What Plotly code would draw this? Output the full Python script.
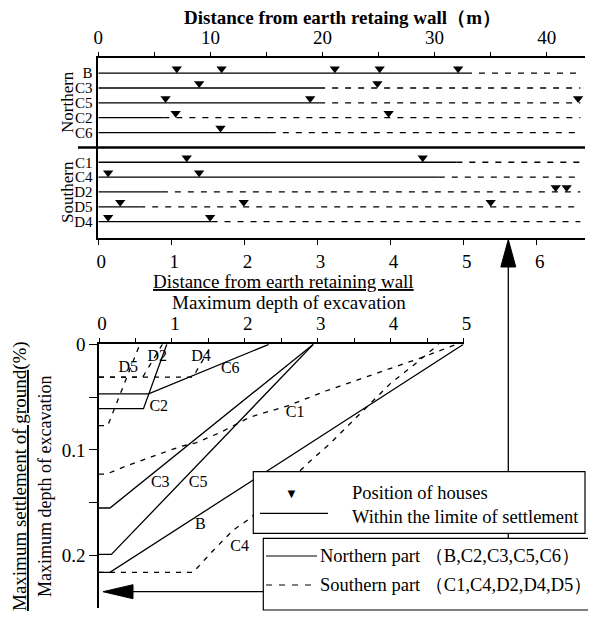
import plotly.graph_objects as go

# The page body has an 8px default margin, so the figure is drawn 8px in from the window edge.
OFF = 8
W, H = 596 - OFF, 622 - OFF
def px(x): return (x - OFF) / W
def py(y): return 1 - (y - OFF) / H

FONT = "Liberation Serif"
BLACK = "black"

# ---------------- data: top panel ----------------
north_rows = ["B", "C3", "C5", "C2", "C6"]
north_limit_m = [32.8, 19.7, 19.7, 5.8, 15.3]          # end of settlement zone (m)
north_houses_m = [[7.0, 11.0, 21.1, 25.1, 32.1],
                  [9.0, 24.9],
                  [6.0, 18.9, 42.8],
                  [6.9, 25.9],
                  [10.9]]
south_rows = ["C1", "C4", "D2", "D5", "D4"]
south_limit_ratio = [4.9, 4.66, 0.87, 0.56, 1.55]       # end of settlement zone (distance / depth)
south_houses_ratio = [[1.21, 4.44],
                      [0.135, 1.38],
                      [6.26, 6.41],
                      [0.30, 1.99, 5.37],
                      [0.135, 1.53]]
row_end_m = 43.0
depth_m = 6.518          # metres per unit of the ratio axis

# ---------------- data: lower panel (x = distance/depth, y = settlement/depth %) ----------------
B_x = [0, 0.15, 5.0];            B_y = [0.216, 0.216, 0.0]
C2_x = [0, 0.61, 0.93];          C2_y = [0.061, 0.061, 0.0]
C3_x = [0, 0.15, 2.94];          C3_y = [0.155, 0.155, 0.0]
C5_x = [0, 0.17, 2.94];          C5_y = [0.199, 0.199, 0.0]
C6_x = [0, 0.68, 2.33];          C6_y = [0.047, 0.047, 0.0]
C1_x = [0, 0.1, 0.38, 0.7, 1.11, 1.34, 1.68, 2.07, 2.6, 3.12, 3.53, 4.0, 4.45, 4.9]
C1_y = [0.123, 0.123, 0.115, 0.107, 0.097, 0.093, 0.083, 0.069, 0.058, 0.044, 0.034, 0.023, 0.012, 0.0]
C4_x = [0, 1.29, 1.57, 1.84, 2.07, 2.89, 3.17, 3.49, 3.76, 4.0, 4.31, 4.66]
C4_y = [0.216, 0.216, 0.195, 0.176, 0.165, 0.111, 0.094, 0.072, 0.053, 0.037, 0.02, 0.0]
D2_x = [0, 0.6, 0.87];           D2_y = [0.031, 0.031, 0.0]
D4_x = [0, 1.29, 1.55];          D4_y = [0.031, 0.031, 0.0]
D5_x = [0, 0.12, 0.56];          D5_y = [0.077, 0.077, 0.0]

lower_solid = {"B": (B_x, B_y), "C2": (C2_x, C2_y), "C3": (C3_x, C3_y),
               "C5": (C5_x, C5_y), "C6": (C6_x, C6_y)}
lower_dashed = {"C1": (C1_x, C1_y), "C4": (C4_x, C4_y), "D2": (D2_x, D2_y),
                "D4": (D4_x, D4_y), "D5": (D5_x, D5_y)}

curve_labels = ["D5", "D2", "D4", "C6", "C2", "C1", "C3", "C5", "B", "C4"]
curve_label_x = [0.40, 0.80, 1.40, 1.80, 0.82, 2.69, 0.84, 1.36, 1.39, 1.93]
curve_label_y = [0.022, 0.012, 0.012, 0.023, 0.059, 0.065, 0.131, 0.131, 0.171, 0.192]

fig = go.Figure()
DASH = "6px,7px"

# ---------- top panel rows ----------
sep_row = len(north_rows) + 1
for i, name in enumerate(north_rows):
    r = i + 1
    lim = north_limit_m[i]
    fig.add_trace(go.Scatter(x=[0, lim], y=[r, r], mode="lines",
                             line=dict(color=BLACK, width=1.3), xaxis="x", yaxis="y", hoverinfo="skip"))
    fig.add_trace(go.Scatter(x=[lim, row_end_m], y=[r, r], mode="lines",
                             line=dict(color=BLACK, width=1.3, dash=DASH), xaxis="x", yaxis="y", hoverinfo="skip"))
    hs = north_houses_m[i]
    fig.add_trace(go.Scatter(x=hs, y=[r - 0.3] * len(hs), mode="markers",
                             marker=dict(symbol="triangle-down", size=9, color=BLACK),
                             xaxis="x", yaxis="y", hoverinfo="skip"))

row_end_ratio = row_end_m / depth_m
for i, name in enumerate(south_rows):
    r = sep_row + 1 + i
    lim = south_limit_ratio[i]
    fig.add_trace(go.Scatter(x=[0, lim], y=[r, r], mode="lines",
                             line=dict(color=BLACK, width=1.3), xaxis="x2", yaxis="y", hoverinfo="skip"))
    fig.add_trace(go.Scatter(x=[lim, row_end_ratio], y=[r, r], mode="lines",
                             line=dict(color=BLACK, width=1.3, dash=DASH), xaxis="x2", yaxis="y", hoverinfo="skip"))
    hs = south_houses_ratio[i]
    fig.add_trace(go.Scatter(x=hs, y=[r - 0.3] * len(hs), mode="markers",
                             marker=dict(symbol="triangle-down", size=9, color=BLACK),
                             xaxis="x2", yaxis="y", hoverinfo="skip"))

# ---------- lower panel curves ----------
for name, (xs, ys) in lower_solid.items():
    fig.add_trace(go.Scatter(x=xs, y=ys, mode="lines", line=dict(color=BLACK, width=1.3),
                             xaxis="x3", yaxis="y3", hoverinfo="skip", cliponaxis=False))
for name, (xs, ys) in lower_dashed.items():
    fig.add_trace(go.Scatter(x=xs, y=ys, mode="lines", line=dict(color=BLACK, width=1.3, dash="5px,6px"),
                             xaxis="x3", yaxis="y3", hoverinfo="skip", cliponaxis=False))
fig.add_trace(go.Scatter(x=curve_label_x, y=curve_label_y, mode="text", text=curve_labels,
                         textfont=dict(family=FONT, size=16, color=BLACK),
                         xaxis="x3", yaxis="y3", hoverinfo="skip", cliponaxis=False))

top_xmax = (585 - 98.3) / 11.21
all_rows = north_rows + [""] + south_rows
tickfont = dict(family=FONT, size=19, color=BLACK)
common = dict(showline=True, linecolor=BLACK, linewidth=1.5, showgrid=False, zeroline=False,
              automargin=False, tickcolor=BLACK, fixedrange=True)

fig.update_layout(
    width=W, height=H, margin=dict(l=0, r=0, t=0, b=0, autoexpand=False),
    paper_bgcolor="white", plot_bgcolor="rgba(0,0,0,0)", showlegend=False,
    xaxis=dict(domain=[px(98.3), px(585)], range=[0, top_xmax], side="top", anchor="y",
               tickmode="array", tickvals=list(range(0, 45, 5)),
               ticktext=[str(v) if v % 10 == 0 else "" for v in range(0, 45, 5)],
               ticks="outside", ticklen=5, tickfont=tickfont, **common),
    xaxis2=dict(domain=[px(98.3), px(585)], range=[0, top_xmax / depth_m], side="bottom", anchor="y",
                overlaying="x", tickmode="array", tickvals=list(range(0, 7)), ticks="outside", ticklen=5,
                tickfont=tickfont, ticklabelshift=3, **common),
    yaxis=dict(domain=[py(238.3), py(58.3)], range=[12.12, 0], anchor="x",
               tickmode="array", tickvals=list(range(1, len(all_rows) + 1)), ticktext=all_rows,
               ticks="", tickfont=dict(family=FONT, size=15, color=BLACK), ticklabelstandoff=1, **common),
    xaxis3=dict(domain=[px(99), px(463.5)], range=[0, 5], side="top", anchor="y3",
                tickmode="array", tickvals=[v / 2 for v in range(0, 11)],
                ticktext=[str(v // 2) if v % 2 == 0 else "" for v in range(0, 11)],
                ticks="outside", ticklen=5, tickfont=tickfont, ticklabelshift=3, **common),
    yaxis3=dict(domain=[py(608.3), py(344.3)], range=[0.25, 0], anchor="x3",
                tickmode="array", tickvals=[0, 0.05, 0.1, 0.15, 0.2],
                ticktext=["0", "", "0.1", "", "0.2"],
                ticks="outside", ticklen=8, tickfont=tickfont, **common),
)

shapes = []
# separator between northern / southern rows
shapes.append(dict(type="line", xref="paper", yref="y", x0=px(78), x1=px(585), y0=sep_row, y1=sep_row,
                   line=dict(color=BLACK, width=2.5)))
# arrows
ax = 508.3
shapes.append(dict(type="line", xref="paper", yref="paper", x0=px(ax), x1=px(ax), y0=py(262), y1=py(591.7),
                   line=dict(color=BLACK, width=1.3)))
shapes.append(dict(type="line", xref="paper", yref="paper", x0=px(130), x1=px(ax), y0=py(591.7), y1=py(591.7),
                   line=dict(color=BLACK, width=1.3)))
def tri(pts):
    return "M " + " L ".join(f"{px(a):.5f},{py(b):.5f}" for a, b in pts) + " Z"
shapes.append(dict(type="path", xref="paper", yref="paper",
                   path=tri([(ax, 239.5), (ax - 7.5, 267), (ax + 7.5, 267)]),
                   fillcolor=BLACK, line=dict(color=BLACK, width=1)))
shapes.append(dict(type="path", xref="paper", yref="paper",
                   path=tri([(103, 591.7), (133, 584.7), (133, 598.7)]),
                   fillcolor=BLACK, line=dict(color=BLACK, width=1)))
# legend boxes
shapes.append(dict(type="rect", xref="paper", yref="paper", x0=px(253.3), x1=px(585), y0=py(533.3), y1=py(471.7),
                   fillcolor="white", line=dict(color=BLACK, width=1.2), layer="above"))
shapes.append(dict(type="rect", xref="paper", yref="paper", x0=px(263.3), x1=px(590), y0=py(610), y1=py(538.3),
                   fillcolor="white", line=dict(color=BLACK, width=1.2), layer="above"))
shapes.append(dict(type="line", xref="paper", yref="paper", x0=px(260), x1=px(328), y0=py(513.3), y1=py(513.3),
                   line=dict(color=BLACK, width=1.2), layer="above"))
shapes.append(dict(type="line", xref="paper", yref="paper", x0=px(266), x1=px(317), y0=py(556), y1=py(556),
                   line=dict(color=BLACK, width=1.2), layer="above"))
shapes.append(dict(type="line", xref="paper", yref="paper", x0=px(266), x1=px(317), y0=py(585), y1=py(585),
                   line=dict(color=BLACK, width=1.2, dash="6px,7px"), layer="above"))
fig.update_layout(shapes=shapes)

ann = []
def text(x, y, s, size=17, anchor="center", angle=0, bold=False):
    ann.append(dict(xref="paper", yref="paper", x=px(x), y=py(y), text=(f"<b>{s}</b>" if bold else s),
                    showarrow=False, xanchor=anchor, yanchor="middle", textangle=angle,
                    font=dict(family=FONT, size=size, color=BLACK)))

text(342, 17, "Distance from earth retaing wall（m）", size=19, bold=True)
text(67, 102, "Northern", size=17, angle=-90)
text(67, 192, "Southern", size=17, angle=-90)
text(283, 281, "<u>Distance from earth retaining wall</u>", size=19)
text(289, 302, "Maximum depth of excavation", size=19)
text(20, 476, "<u>Maximum settlement of ground</u>(%)", size=19, angle=-90)
text(45, 487, "Maximum depth of excavation", size=18, angle=-90)
text(291.7, 493.3, "▼", size=13)
text(350, 493, "Position of houses", size=18.5, anchor="left")
text(350, 517, "Within the limite of settlement", size=18.5, anchor="left")
text(318, 556, "Northern part （B,C2,C3,C5,C6）", size=18.5, anchor="left")
text(318, 585, "Southern part （C1,C4,D2,D4,D5）", size=18.5, anchor="left")
fig.update_layout(annotations=ann)

fig.write_html("out.html")
